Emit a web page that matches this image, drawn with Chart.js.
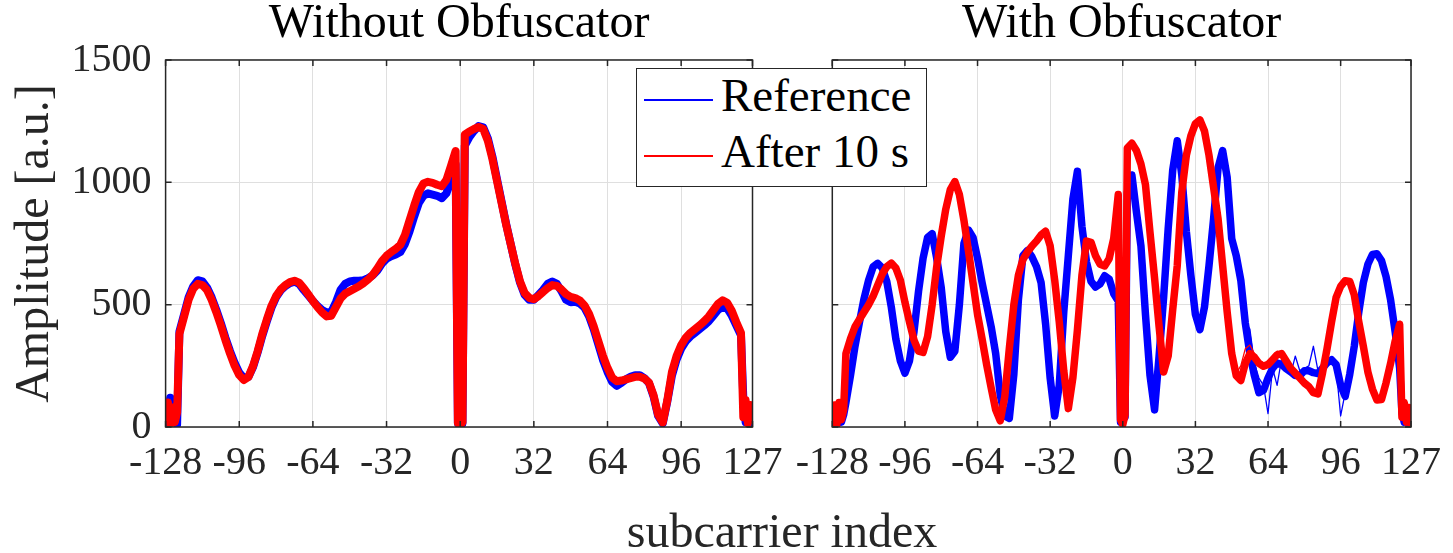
<!DOCTYPE html>
<html>
<head>
<meta charset="utf-8">
<script src="https://cdn.jsdelivr.net/npm/chart.js@4.4.0/dist/chart.umd.min.js"></script>
<style>
  body { margin: 0; background: #fff; }
  #wrap { position: relative; width: 1453px; height: 553px; font-family: "Liberation Serif", serif; color: #000; }
  canvas { position: absolute; left: 0; top: 0; }
  .txt { position: absolute; white-space: nowrap; }
  #legendBox { position: absolute; left: 636px; top: 68px; width: 291px; height: 119px; box-sizing: border-box;
               border: 1.5px solid #262626; background: #fff; }
  .swatch { position: absolute; left: 644px; width: 69px; height: 2px; }
</style>
</head>
<body>
<div id="wrap">
  <canvas id="noObf" width="1453" height="553"></canvas>
  <canvas id="withObf" width="1453" height="553"></canvas>
  <div id="legendBox"></div>
  <div class="swatch" style="top:99px;background:#0000ff"></div>
  <div class="swatch" style="top:155px;background:#ff0000"></div>
  <div class="txt" style="left:721px;top:72px;font-size:47px;line-height:47px">Reference</div>
  <div class="txt" style="left:721px;top:128px;font-size:47px;line-height:47px">After 10 s</div>
  <div class="txt" style="left:482px;top:507px;width:600px;text-align:center;font-size:48px;line-height:48px;color:#262626">subcarrier index</div>
</div>
<script>
// subcarrier positions the traces were read at
const subcarriers = [-128, -127, -126, -125, -124, -123,
  -122, -120, -118, -116, -114, -112, -110, -108, -106, -104,
  -102, -100, -98, -96, -94, -92, -90, -88, -86, -84,
  -82, -80, -78, -76, -74, -72, -70, -68, -66, -64,
  -62, -60, -58, -56, -54, -52, -50, -48, -46, -44,
  -42, -40, -38, -36, -34, -32, -30, -28, -26, -24,
  -22, -20, -18, -16, -14, -12, -10, -8, -6, -4, -2,
  -1, 0, 1,
  2, 4, 6, 8, 10, 12, 14, 16, 18, 20,
  22, 24, 26, 28, 30, 32, 34, 36, 38, 40,
  42, 44, 46, 48, 50, 52, 54, 56, 58, 60,
  62, 64, 66, 68, 70, 72, 74, 76, 78, 80,
  82, 84, 86, 88, 90, 92, 94, 96, 98, 100,
  102, 104, 106, 108, 110, 112, 114, 116, 118, 120,
  122,
  123, 124, 125, 126, 127]

const xTicks = [-128, -96, -64, -32, 0, 32, 64, 96, 127]
const yTicks = [0, 500, 1000, 1500]

// Without Obfuscator
const noObfReference = [90, 20, 120, 30, 70, 10,
  390, 460, 530, 575, 600, 595, 570, 530, 480, 425,
  365, 310, 262, 222, 200, 205, 245, 305, 372, 432,
  488, 530, 558, 576, 588, 594, 585, 560, 538, 515,
  495, 478, 468, 470, 510, 560, 585, 595, 598, 598,
  600, 608, 620, 640, 668, 688, 698, 705, 715, 748,
  800, 860, 915, 945, 955, 950, 945, 935, 955, 1010, 1075,
  15, 680, 15,
  1150, 1185, 1210, 1230, 1225, 1180, 1105, 1012, 920, 828,
  745, 662, 590, 540, 520, 520, 540, 560, 585, 595,
  585, 555, 520, 510, 512, 505, 488, 452, 400, 338,
  275, 225, 185, 168, 180, 195, 205, 212, 212, 200,
  180, 125, 45, 15, 105, 210, 275, 320, 350, 370,
  385, 400, 415, 432, 455, 478, 492, 485, 455, 415,
  375,
  120, 20, 90, 10, 60]

const noObfAfter = [40, 100, 10, 80, 20, 60,
  380, 450, 520, 565, 585, 580, 560, 520, 470, 415,
  355, 300, 250, 212, 192, 205, 250, 310, 380, 440,
  495, 535, 562, 580, 592, 598, 590, 568, 542, 515,
  490, 468, 452, 455, 490, 525, 545, 555, 565, 575,
  588, 603, 622, 648, 678, 700, 715, 728, 745, 785,
  845, 905, 960, 995, 1002, 998, 990, 984, 1010, 1068, 1128,
  15, 5, 20,
  1195, 1208, 1218, 1226, 1218, 1170, 1095, 1005, 915, 825,
  745, 665, 595, 548, 528, 522, 535, 552, 568, 580,
  577, 562, 543, 532, 527, 517, 497, 462, 412, 352,
  292, 242, 202, 187, 190, 195, 200, 205, 205, 198,
  182, 130, 50, 18, 110, 225, 290, 335, 365, 385,
  400, 415, 432, 452, 478, 503, 518, 508, 475, 428,
  385,
  40, 110, 15, 90, 30]

// With Obfuscator
const obfReference = [40, 80, 10, 70, 20, 50,
  100, 210, 330, 430, 525, 600, 655, 669, 650, 595,
  490, 360, 270, 220, 270, 390, 555, 690, 775, 790,
  690, 570, 390, 285, 310, 500, 750, 805, 775, 690,
  590, 500, 410, 300, 130, 45, 35, 215, 520, 700,
  722, 695, 655, 590, 420, 200, 45, 170, 470, 700,
  930, 1045, 820, 675, 595, 572, 585, 618, 605, 545, 515,
  20, 30, 40,
  960, 1030, 880, 740, 460, 210, 70, 290, 530, 810,
  1050, 1170, 1030, 800, 620, 460, 398, 490, 660, 850,
  1060, 1130, 1020, 770, 700, 600, 424, 300, 210, 140,
  150, 200, 240, 262, 255, 238, 225, 210, 210, 230,
  230, 222, 218, 240, 262, 275, 255, 170, 125, 215,
  330, 470, 590, 665, 705, 708, 680, 615, 520, 390,
  240,
  60, 20, 80, 10, 50]

const obfAfter = [20, 90, 10, 100, 30, 70,
  300, 360, 410, 440, 470, 500, 535, 580, 625, 655,
  670, 650, 600, 510, 430, 355, 310, 305, 370, 500,
  655, 780, 890, 970, 1003, 950, 845, 720, 590, 460,
  360, 255, 160, 70, 25, 124, 320, 500, 620, 685,
  715, 740, 760, 785, 800, 740, 600, 430, 230, 75,
  200, 396, 620, 760, 755, 700, 665, 658, 688, 770, 950,
  30, 10, 50,
  1140, 1160, 1130, 1075, 990, 795, 610, 410, 225, 290,
  480, 660, 960, 1110, 1190, 1240, 1255, 1210, 1110, 980,
  850, 660, 470, 300, 210, 190, 260, 300, 285, 260,
  248, 255, 275, 295, 300, 270, 240, 220, 200, 180,
  165, 140, 135, 220, 320, 430, 530, 575, 598, 595,
  540, 430, 330, 225, 155, 110, 112, 180, 260, 350,
  420,
  40, 100, 20, 80, 10]

// a few stray captures that leave the bundle (with obfuscator)
const strayRefX = [50, 54, 56, 58, 60, 62, 64, 66, 68, 70, 72, 74, 76, 78, 80, 82, 84, 86, 88, 90, 92, 94, 96, 98, 100]
const strayRefY = [700, 430, 400, 260, 200, 170, 55, 240, 170, 280, 250, 215, 290, 230, 240, 250, 330, 230, 205, 260, 280, 240, 45, 140, 215]
const strayAfterX = [50, 52, 54, 56, 58, 60, 62, 64, 66, 68, 70]
const strayAfterY = [220, 250, 320, 335, 300, 275, 262, 268, 290, 310, 300]

Chart.defaults.font.family = '"Liberation Serif", serif'
Chart.defaults.color = '#262626'

// box + inward ticks on all four sides, like a matlab axes
const matlabBox = {
  id: 'matlabBox',
  afterDatasetsDraw(chart) {
    const { ctx, chartArea: a, scales } = chart
    const len = 6
    ctx.save()
    ctx.strokeStyle = '#262626'
    ctx.lineWidth = 1.5
    ctx.beginPath()
    scales.x.ticks.forEach(t => {
      const px = scales.x.getPixelForValue(t.value)
      ctx.moveTo(px, a.bottom); ctx.lineTo(px, a.bottom - len)
      ctx.moveTo(px, a.top); ctx.lineTo(px, a.top + len)
    })
    scales.y.ticks.forEach(t => {
      const py = scales.y.getPixelForValue(t.value)
      ctx.moveTo(a.left, py); ctx.lineTo(a.left + len, py)
      ctx.moveTo(a.right, py); ctx.lineTo(a.right - len, py)
    })
    ctx.stroke()
    ctx.strokeRect(a.left, a.top, a.right - a.left, a.bottom - a.top)
    ctx.restore()
  }
}

function trace(xs, values, color, width) {
  return {
    data: xs.map((s, i) => ({ x: s, y: values[i] })),
    borderColor: color,
    borderWidth: width,
    pointRadius: 0,
    tension: 0,
    clip: 0,
    borderJoinStyle: 'round',
    borderCapStyle: 'round'
  }
}

function panelOptions(title, yWidth, rightPad, showY) {
  const grid = { color: '#dfdfdf', lineWidth: 1, drawTicks: false }
  return {
    responsive: false,
    animation: false,
    devicePixelRatio: 1,
    events: [],
    layout: { padding: { left: 0, right: rightPad, top: 0, bottom: 0 } },
    plugins: {
      legend: { display: false },
      tooltip: { enabled: false },
      title: {
        display: true, text: title, fullSize: false, color: '#000',
        font: { size: 48, weight: 'normal' },
        padding: { top: -4, bottom: 6.4 }
      }
    },
    scales: {
      x: {
        type: 'linear', min: -128, max: 127,
        afterBuildTicks: s => { s.ticks = xTicks.map(v => ({ value: v })) },
        afterFit: s => { s.height = 126 },
        grid: grid,
        border: { display: false },
        ticks: { font: { size: 40 }, padding: 12, autoSkip: false, maxRotation: 0, callback: v => String(v) }
      },
      y: {
        type: 'linear', min: 0, max: 1500,
        afterBuildTicks: s => { s.ticks = yTicks.map(v => ({ value: v })) },
        afterFit: s => { s.width = yWidth },
        grid: grid,
        border: { display: false },
        ticks: { display: showY, font: { size: 40 }, padding: 14, callback: v => String(v) },
        title: { display: showY, text: 'Amplitude [a.u.]', font: { size: 48 }, padding: { top: 6.6, bottom: 0 } }
      }
    }
  }
}

// first dataset is drawn on top, so red comes first
new Chart(document.getElementById('noObf'), {
  type: 'line',
  data: {
    datasets: [
      trace(subcarriers, noObfAfter, '#ff0000', 8),
      trace(subcarriers, noObfReference, '#0000ff', 8)
    ]
  },
  options: panelOptions('Without Obfuscator', 165.6, 700.5, true),
  plugins: [matlabBox]
})

new Chart(document.getElementById('withObf'), {
  type: 'line',
  data: {
    datasets: [
      trace(strayAfterX, strayAfterY, '#ff0000', 1.3),
      trace(subcarriers, obfAfter, '#ff0000', 7.5),
      trace(strayRefX, strayRefY, '#0000ff', 1.3),
      trace(subcarriers, obfReference, '#0000ff', 7.5)
    ]
  },
  options: panelOptions('With Obfuscator', 832.3, 35, false),
  plugins: [matlabBox]
})
</script>
</body>
</html>
